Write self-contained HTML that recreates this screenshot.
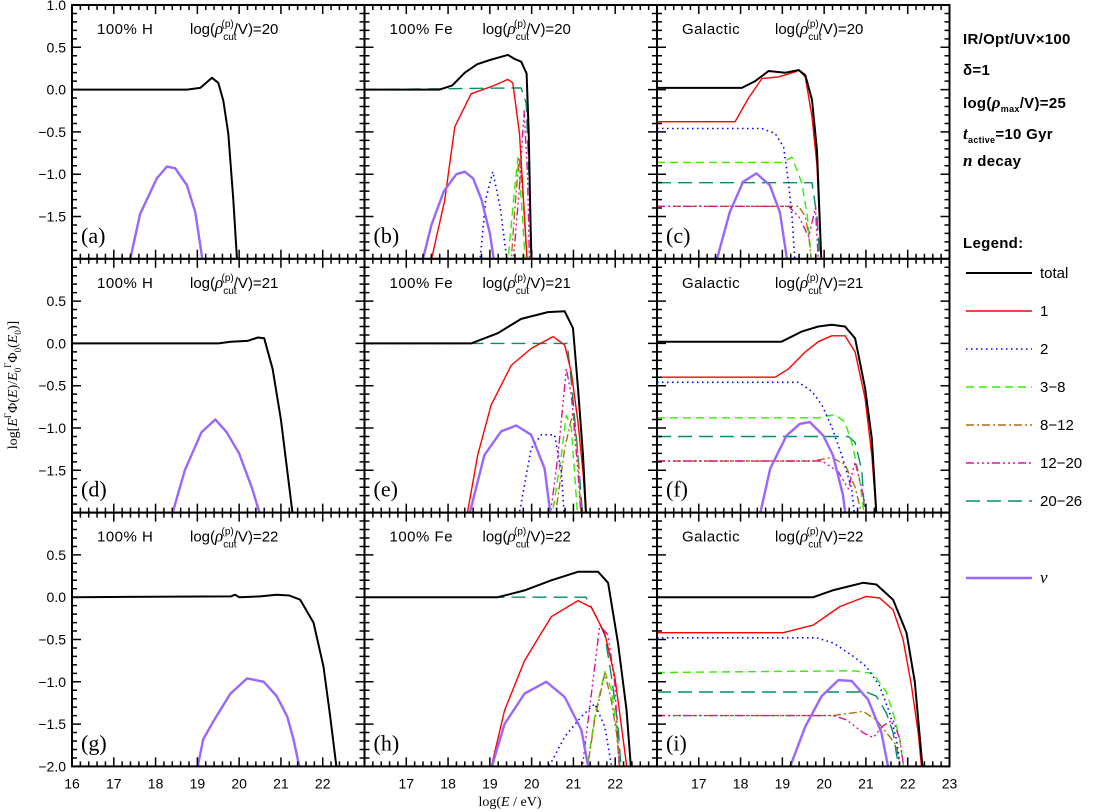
<!DOCTYPE html>
<html><head><meta charset="utf-8"><style>
body{margin:0;background:#fff;}
svg{display:block;font-family:"Liberation Sans",sans-serif;}
</style></head><body>
<svg id="chart" width="1107" height="812" viewBox="0 0 1107 812" xmlns="http://www.w3.org/2000/svg"></svg>
<script>
// ---- data: [logE, log flux ratio] ----
const xTicks=[16,17,18,19,20,21,22,23];
const yTicks=[1.0,0.5,0.0,-0.5,-1.0,-1.5,-2.0];
const cutoffs=[20,21,22];
const compositions=["100% H","100% Fe","Galactic"];
const panelLetters=["a","b","c","d","e","f","g","h","i"];
const legendLabels=["total","1","2","3\u22128","8\u221212","12\u221220","20\u221226","\u03bd"];

const a_total=[[16,0],[18.75,0],[19.07,0.02],[19.35,0.14],[19.5,0.08],[19.62,-0.13],[19.74,-0.52],[19.86,-1.3],[19.96,-2.1]];
const a_nu=[[17.35,-2.1],[17.63,-1.47],[18.03,-1.05],[18.27,-0.91],[18.47,-0.93],[18.75,-1.13],[18.95,-1.45],[19.15,-2.1]];
const d_total=[[16,0],[19.5,0],[19.8,0.02],[20.2,0.03],[20.45,0.07],[20.6,0.06],[20.8,-0.3],[21.0,-0.9],[21.15,-1.5],[21.3,-2.1]];
const d_nu=[[18.35,-2.1],[18.7,-1.5],[19.1,-1.05],[19.43,-0.9],[19.7,-1.05],[20.0,-1.3],[20.3,-1.7],[20.55,-2.1]];
const g_total=[[16,0],[19.8,0.01],[19.9,0.03],[20.0,0],[20.5,0.01],[20.9,0.03],[21.2,0.02],[21.46,-0.03],[21.78,-0.3],[22.02,-0.82],[22.18,-1.41],[22.34,-2.05]];
const g_nu=[[18.99,-2.05],[19.14,-1.68],[19.39,-1.46],[19.79,-1.14],[20.19,-0.96],[20.59,-1.0],[20.9,-1.17],[21.15,-1.41],[21.3,-1.68],[21.46,-2.05]];

const b_total=[[16,0],[17.8,0],[18.1,0.05],[18.4,0.2],[18.7,0.3],[19.0,0.35],[19.43,0.41],[19.6,0.36],[19.75,0.33],[19.88,0.19],[19.93,-0.5],[19.97,-1.5],[20.0,-2.1]];
const b_p1=[[17.56,-2.1],[17.92,-1.31],[18.16,-0.44],[18.55,-0.05],[19.11,0.05],[19.43,0.12],[19.55,0.08],[19.71,-0.52],[19.83,-1.5],[19.9,-2.1]];
const b_p2=[[18.75,-2.1],[18.9,-1.3],[19.07,-0.97],[19.25,-1.4],[19.43,-2.1]];
const b_p3=[[19.42,-2.1],[19.55,-1.4],[19.67,-0.8],[19.78,-1.5],[19.85,-2.1]];
const b_p8=[[19.5,-2.1],[19.6,-1.4],[19.7,-0.8],[19.8,-1.3],[19.9,-2.1]];
const b_p12=[[19.55,-2.1],[19.7,-1.2],[19.82,-0.25],[19.9,-1.0],[19.95,-2.1]];
const b_p20=[[16,0],[19.75,0.02],[19.87,-0.16],[19.95,-1.2],[20.0,-2.1]];
const b_nu=[[17.35,-2.1],[17.6,-1.6],[17.9,-1.2],[18.2,-1.0],[18.4,-0.97],[18.6,-1.05],[18.8,-1.3],[19.0,-1.7],[19.12,-2.1]];

const e_total=[[16,0],[18.55,0],[19.19,0.12],[19.75,0.29],[20.39,0.37],[20.79,0.38],[20.99,0.18],[21.11,-0.53],[21.23,-1.32],[21.31,-2.1]];
const e_p1=[[18.43,-2.1],[18.71,-1.32],[19.03,-0.73],[19.51,-0.26],[19.99,-0.06],[20.51,0.08],[20.79,-0.02],[20.95,-0.34],[21.11,-0.93],[21.23,-1.52],[21.31,-2.1]];
const e_p2=[[19.67,-2.1],[19.99,-1.24],[20.23,-1.08],[20.55,-1.08],[20.71,-1.52],[20.79,-2.1]];
const e_p3=[[20.47,-2.1],[20.71,-1.32],[20.83,-0.85],[20.95,-1.0],[21.11,-2.1]];
const e_p8=[[20.55,-2.1],[20.79,-1.24],[20.99,-0.81],[21.11,-1.32],[21.19,-2.1]];
const e_p12=[[20.43,-2.1],[20.63,-1.32],[20.83,-0.3],[20.95,-0.6],[21.11,-1.52],[21.19,-2.1]];
const e_p20=[[16,0],[20.85,0],[20.95,-0.45],[21.11,-1.32],[21.23,-2.1]];
const e_nu=[[18.47,-2.1],[18.87,-1.32],[19.27,-1.04],[19.63,-0.97],[19.99,-1.08],[20.31,-1.48],[20.47,-2.1]];

const h_total=[[16,0],[19.19,0],[19.83,0.08],[20.47,0.2],[21.11,0.3],[21.59,0.3],[21.83,0.17],[22.07,-0.55],[22.27,-1.33],[22.39,-2.1]];
const h_p1=[[18.99,-2.1],[19.35,-1.34],[19.83,-0.75],[20.47,-0.23],[21.11,-0.04],[21.43,-0.12],[21.75,-0.43],[21.99,-0.94],[22.15,-1.53],[22.3,-2.1]];
const h_p2=[[20.31,-2.1],[20.79,-1.65],[21.19,-1.41],[21.51,-1.26],[21.75,-1.53],[21.95,-2.1]];
const h_p3=[[21.31,-2.1],[21.51,-1.41],[21.75,-0.88],[21.91,-1.1],[22.03,-1.55],[22.11,-2.1]];
const h_p8=[[21.31,-2.1],[21.51,-1.45],[21.75,-0.9],[21.9,-1.2],[22.03,-1.6],[22.13,-2.1]];
const h_p12=[[21.19,-2.1],[21.43,-1.14],[21.63,-0.33],[21.83,-0.45],[21.99,-1.02],[22.11,-2.1]];
const h_p20=[[16,0],[21.3,0],[21.59,-0.27],[21.75,-0.45],[21.91,-0.94],[22.07,-1.53],[22.15,-2.1]];
const h_nu=[[18.99,-2.1],[19.35,-1.5],[19.83,-1.14],[20.35,-1.0],[20.79,-1.18],[21.19,-1.57],[21.39,-2.1]];

const c_total=[[16,0.02],[18.03,0.02],[18.35,0.1],[18.67,0.22],[19.07,0.2],[19.39,0.23],[19.55,0.17],[19.71,-0.12],[19.83,-0.72],[19.94,-2.1]];
const c_p1=[[16,-0.38],[17.87,-0.38],[18.19,-0.1],[18.51,0.13],[18.91,0.15],[19.31,0.21],[19.39,0.23],[19.55,0.15],[19.71,-0.32],[19.83,-0.9],[19.94,-2.1]];
const c_p2=[[16,-0.46],[18.51,-0.46],[18.83,-0.52],[19.03,-0.68],[19.15,-1.11],[19.23,-1.5],[19.31,-2.1]];
const c_p3=[[16,-0.86],[18.99,-0.86],[19.23,-0.8],[19.47,-1.11],[19.6,-1.5],[19.71,-2.1]];
const c_p8=[[16,-1.38],[19.39,-1.38],[19.55,-1.5],[19.63,-1.72],[19.71,-2.1]];
const c_p12=[[16,-1.38],[19.15,-1.38],[19.39,-1.5],[19.63,-1.74],[19.79,-1.4],[19.87,-2.1]];
const c_p20=[[16,-1.1],[19.71,-1.1],[19.83,-1.5],[19.91,-2.1]];
const c_nu=[[17.38,-2.1],[17.74,-1.45],[18.06,-1.09],[18.38,-0.99],[18.7,-1.13],[18.94,-1.45],[19.14,-2.1]];

const f_total=[[16,0.02],[18.98,0.02],[19.46,0.14],[19.86,0.2],[20.18,0.22],[20.5,0.2],[20.74,0.06],[20.98,-0.53],[21.14,-1.12],[21.26,-2.1]];
const f_p1=[[16,-0.4],[18.83,-0.4],[19.15,-0.3],[19.55,-0.1],[19.86,0.02],[20.18,0.09],[20.5,0.09],[20.74,-0.1],[20.98,-0.65],[21.14,-1.32],[21.26,-2.1]];
const f_p2=[[16,-0.46],[19.39,-0.46],[19.71,-0.57],[19.95,-0.73],[20.19,-1.0],[20.42,-1.32],[20.66,-1.72],[20.74,-2.1]];
const f_p3=[[16,-0.88],[19.86,-0.88],[20.26,-0.84],[20.5,-0.93],[20.66,-1.17],[20.82,-1.52],[20.98,-2.1]];
const f_p8=[[16,-1.39],[19.71,-1.39],[20.18,-1.35],[20.5,-1.43],[20.74,-1.7],[20.94,-2.1]];
const f_p12=[[16,-1.39],[19.95,-1.39],[20.34,-1.52],[20.58,-1.72],[20.74,-1.4],[20.9,-1.72],[21.06,-2.1]];
const f_p20=[[16,-1.1],[20.58,-1.1],[20.74,-1.17],[20.9,-1.5],[20.98,-2.1]];
const f_nu=[[18.43,-2.1],[18.71,-1.48],[19.1,-1.09],[19.42,-0.95],[19.66,-0.93],[19.98,-1.09],[20.21,-1.32],[20.45,-1.79],[20.53,-2.1]];

const i_total=[[16,0],[19.74,0],[20.2,0.08],[20.93,0.17],[21.25,0.15],[21.65,-0.03],[21.97,-0.42],[22.17,-1.0],[22.37,-2.1]];
const i_p1=[[16,-0.42],[19.02,-0.42],[19.74,-0.33],[20.38,-0.11],[21.01,0.01],[21.33,-0.01],[21.65,-0.15],[21.89,-0.5],[22.09,-1.05],[22.25,-1.6],[22.35,-2.1]];
const i_p2=[[16,-0.48],[19.82,-0.48],[20.22,-0.54],[20.7,-0.7],[21.01,-0.82],[21.33,-1.05],[21.57,-1.37],[21.73,-1.68],[21.85,-2.1]];
const i_p3=[[16,-0.89],[20.7,-0.87],[21.17,-0.9],[21.49,-1.12],[21.65,-1.37],[21.81,-1.68],[21.93,-2.1]];
const i_p8=[[16,-1.4],[20.22,-1.4],[20.93,-1.35],[21.25,-1.45],[21.49,-1.6],[21.73,-1.75],[21.85,-2.1]];
const i_p12=[[16,-1.4],[20.22,-1.4],[20.54,-1.45],[20.93,-1.6],[21.17,-1.66],[21.41,-1.52],[21.65,-1.45],[21.81,-1.68],[21.93,-2.1]];
const i_p20=[[16,-1.12],[21.01,-1.12],[21.25,-1.17],[21.49,-1.37],[21.65,-1.6],[21.81,-2.1]];
const i_nu=[[19.11,-2.1],[19.55,-1.53],[19.94,-1.17],[20.34,-0.98],[20.66,-0.99],[21.05,-1.21],[21.37,-1.6],[21.57,-2.1]];

const panelSeries=[
 {nu:a_nu,total:a_total},
 {p1:b_p1,p2:b_p2,p3:b_p3,p8:b_p8,p12:b_p12,p20:b_p20,nu:b_nu,total:b_total},
 {p1:c_p1,p2:c_p2,p3:c_p3,p8:c_p8,p12:c_p12,p20:c_p20,nu:c_nu,total:c_total},
 {nu:d_nu,total:d_total},
 {p1:e_p1,p2:e_p2,p3:e_p3,p8:e_p8,p12:e_p12,p20:e_p20,nu:e_nu,total:e_total},
 {p1:f_p1,p2:f_p2,p3:f_p3,p8:f_p8,p12:f_p12,p20:f_p20,nu:f_nu,total:f_total},
 {nu:g_nu,total:g_total},
 {p1:h_p1,p2:h_p2,p3:h_p3,p8:h_p8,p12:h_p12,p20:h_p20,nu:h_nu,total:h_total},
 {p1:i_p1,p2:i_p2,p3:i_p3,p8:i_p8,p12:i_p12,p20:i_p20,nu:i_nu,total:i_total}
];

const STY={
 total:{c:"#000",w:2,d:""},
 p1:{c:"#ff0000",w:1.4,d:""},
 p2:{c:"#0000ff",w:1.6,d:"1.5 3.5"},
 p3:{c:"#33ee00",w:1.4,d:"8 5"},
 p8:{c:"#b07010",w:1.4,d:"8 3 2 3"},
 p12:{c:"#e0109e",w:1.4,d:"8 3 2 3 2 3 2 3"},
 p20:{c:"#00906a",w:1.4,d:"14 7"},
 nu:{c:"#9966ff",w:2.4,d:""}
};
const legendKeys=["total","p1","p2","p3","p8","p12","p20","nu"];

const NS="http://www.w3.org/2000/svg";
const svg=document.getElementById("chart");
function mk(tag,attrs,parent){const e=document.createElementNS(NS,tag);for(const k in attrs)e.setAttribute(k,attrs[k]);(parent||svg).appendChild(e);return e;}

const L0=72,PW=292.5,T0=5,PH=253.8,XMIN=16,XMAX=23,YMIN=-2,YMAX=1;
const defs=mk("defs",{});
for(let p=0;p<9;p++){
 const col=p%3,row=Math.floor(p/3);
 const left=L0+col*PW,top=T0+row*PH;
 const X=e=>left+(e-XMIN)/(XMAX-XMIN)*PW;
 const Y=v=>top+(YMAX-v)/(YMAX-YMIN)*PH;
 const g=mk("g",{});
 
 
 const cp=mk("clipPath",{id:"cp"+p},defs);
 mk("rect",{x:left,y:top,width:PW,height:PH},cp);
 const sg=mk("g",{"clip-path":"url(#cp"+p+")"},g);
 const ser=panelSeries[p];
 for(const k of ["p20","p3","p8","p12","p2","p1","nu","total"]){
  if(!ser[k])continue;
  const s=STY[k];
  const path=mk("polyline",{points:ser[k].map(q=>X(q[0]).toFixed(1)+","+Y(q[1]).toFixed(1)).join(" "),fill:"none",stroke:s.c,"stroke-width":s.w,"stroke-dasharray":s.d,"stroke-linejoin":"round"},sg);
  
  
 }
 // frame
 const fr=mk("rect",{x:left,y:top,width:PW,height:PH,fill:"none",stroke:"#000","stroke-width":2},g);
 
 
 // ticks
 let d="";
 for(let t=XMIN;t<=XMAX+1e-6;t+=0.2){const x=X(t);const maj=Math.abs(t-Math.round(t))<1e-6;const l=maj?9:5;d+=`M${x},${top}v${l}M${x},${top+PH}v${-l}`;}
 for(let v=YMIN;v<=YMAX+1e-6;v+=0.1){const y=Y(v);const maj=Math.abs(v*2-Math.round(v*2))<1e-6;const l=maj?9:5;d+=`M${left},${y}h${l}M${left+PW},${y}h${-l}`;}
 const tk=mk("path",{d:d,stroke:"#000","stroke-width":1.5,fill:"none"},g);
 
 
 // annotations
 const t1=mk("text",{x:left+25,y:top+29,"font-size":15,"letter-spacing":"0.5"},g);
 t1.textContent=compositions[col];
 
 
 const t2=mk("text",{x:left+118,y:top+29,"font-size":15},g);
 t2.innerHTML=`log(<tspan font-family="Liberation Serif,serif" font-style="italic" font-size="17">\u03c1</tspan><tspan font-size="10" dy="6">cut</tspan><tspan font-size="10" dx="-15" dy="-13">(p)</tspan><tspan dy="7">/V)=${cutoffs[row]}</tspan>`;
 
 
 const t3=mk("text",{x:left+9,y:top+PH-16,"font-size":22,"font-family":"Liberation Serif,serif"},g);
 t3.textContent="("+panelLetters[p]+")";
 
 
 // tick labels
 if(col===0){
  for(const v of yTicks){
   if(v===1.0&&row>0)continue; if(v===-2.0&&row<2)continue;
   const tl=mk("text",{x:left-6,y:Y(v)+5,"font-size":14,"text-anchor":"end"},g);
   tl.textContent=(v<0?"\u2212":"")+Math.abs(v).toFixed(1);
   
   
  }
 }
 if(row===2){
  for(const t of xTicks){
   if(col>0&&t===16)continue; if(col<2&&t===23)continue;
   const tl=mk("text",{x:X(t),y:top+PH+22,"font-size":14,"text-anchor":"middle"},g);
   tl.textContent=t;
   
   
  }
 }
}
// axis titles
const xt=mk("text",{x:510,y:806,"font-size":14,"text-anchor":"middle","font-family":"Liberation Serif,serif"});
xt.innerHTML='log(<tspan font-style="italic">E</tspan> / eV)';


const yt=mk("text",{x:0,y:0,"font-size":14,"text-anchor":"middle","font-family":"Liberation Serif,serif",transform:"translate(17,385) rotate(-90)"});
yt.innerHTML='log[<tspan font-style="italic">E</tspan><tspan font-size="9" dy="-6">Γ</tspan><tspan dy="6">Φ(</tspan><tspan font-style="italic">E</tspan>)/<tspan font-style="italic">E</tspan><tspan font-size="9" dy="4">0</tspan><tspan font-size="9" dy="-10">Γ</tspan><tspan dy="6">Φ</tspan><tspan font-size="9" dy="4">0</tspan><tspan dy="-4">(</tspan><tspan font-style="italic">E</tspan><tspan font-size="9" dy="4">0</tspan><tspan dy="-4">)]</tspan>';


// parameter notes
const notes=[
 ["IR/Opt/UV\u00d7100",44,"info-background"],
 ["\u03b4=1",75,"info-delta"],
 ['log(<tspan font-family="Liberation Serif,serif" font-style="italic" font-size="17">\u03c1</tspan><tspan font-size="9" dy="4">max</tspan><tspan dy="-4">/V)=25</tspan>',108,"info-rhomax"],
 ['<tspan font-family="Liberation Serif,serif" font-style="italic" font-size="17">t</tspan><tspan font-size="9" dy="4">active</tspan><tspan dy="-4">=10 Gyr</tspan>',139,"info-tactive"],
 ['<tspan font-family="Liberation Serif,serif" font-style="italic" font-size="17">n</tspan> decay',166,"info-decay"],
 ["Legend:",248,"legend-title"]
];
for(const n of notes){
 const t=mk("text",{x:963,y:n[1],"font-size":15,"font-weight":"bold","letter-spacing":"0.3"});
 t.innerHTML=n[0];
 
 
}
const legY=[273,311,349,387,425,463,501,578];
legendKeys.forEach((k,i)=>{
 const g=mk("g",{});
 
 
 const s=STY[k];
 mk("line",{x1:966,x2:1032,y1:legY[i],y2:legY[i],stroke:s.c,"stroke-width":s.w,"stroke-dasharray":s.d},g);
 const t=mk("text",{x:1040,y:legY[i]+5,"font-size":15},g);
 if(k==="nu"){t.setAttribute("font-family","Liberation Serif,serif");t.setAttribute("font-style","italic");t.setAttribute("font-size","17");}
 t.textContent=legendLabels[i];
});
</script>
</body></html>
